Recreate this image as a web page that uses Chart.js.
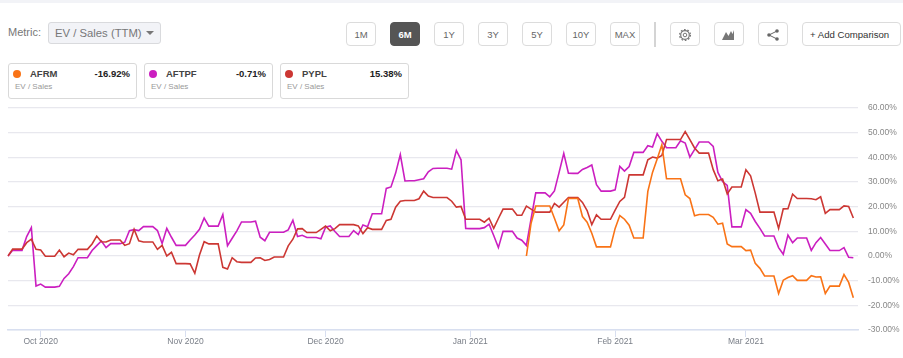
<!DOCTYPE html>
<html>
<head>
<meta charset="utf-8">
<title>EV / Sales (TTM)</title>
<script src="https://cdn.jsdelivr.net/npm/chart.js@4"></script>
<style>
  html, body { margin: 0; padding: 0; background: #fff; overflow: hidden; }
  body { width: 903px; height: 358px; position: relative; font-family: "Liberation Sans", Arial, sans-serif; }
  .topband { position: absolute; left: 0; top: 0; width: 903px; height: 3px; background: #f2f3f7; }
  .abs { position: absolute; box-sizing: border-box; }
  .metric { left: 8px; top: 26px; font-size: 11px; color: #777; }
  .select { left: 48px; top: 22px; width: 113px; height: 22px; background: #f2f3f7; border: 1px solid #d9dadd; border-radius: 3px;
    font-size: 11.3px; line-height: 20px; color: #777; padding-left: 6px; }
  .caret { left: 146px; top: 31px; width: 0; height: 0; border-left: 4px solid transparent; border-right: 4px solid transparent; border-top: 4px solid #777; }
  .btn { top: 22px; height: 24px; width: 30px; border: 1px solid #dcdcdc; border-radius: 4px; background: #fff;
    font-size: 9.5px; line-height: 24px; text-align: center; color: #666; }
  .btn.on { background: #555; border-color: #555; color: #fff; font-weight: bold; }
  .btn svg { display: block; margin: 5px auto 0; }
  .sep { left: 654px; top: 22px; width: 2px; height: 25px; background: #d4d4d4; }
  .card { top: 63px; width: 129px; height: 36px; border: 1px solid #d9d9d9; border-radius: 3px; background: #fff; }
  .dot { left: 4px; top: 6px; width: 8px; height: 8px; border-radius: 50%; }
  .name { left: 21px; top: 4px; font-size: 9.5px; font-weight: bold; color: #444; }
  .val { right: 6px; top: 4px; font-size: 9.5px; font-weight: bold; color: #222; }
  .sub { left: 6px; top: 18px; font-size: 8px; color: #999; }
  #chart { position: absolute; left: 0; top: 0; }
</style>
</head>
<body>
<div class="topband"></div>
<div class="abs metric">Metric:</div>
<div class="abs select">EV / Sales (TTM)</div>
<div class="abs caret"></div>
<div id="ranges"></div>
<div class="abs sep"></div>
<div class="abs btn" style="left:670px"><svg width="14" height="14" viewBox="0 0 14 14"><circle cx="7" cy="7" r="4.3" fill="none" stroke="#777" stroke-width="1.2"/><circle cx="7" cy="7" r="5.4" fill="none" stroke="#777" stroke-width="1.3" stroke-dasharray="1.7 1.7"/><circle cx="7" cy="7" r="1.8" fill="none" stroke="#777"/></svg></div>
<div class="abs btn" style="left:714px"><svg width="14" height="14" viewBox="0 0 14 14"><path d="M0 12 L4 4 L6.5 8 L9 3 L10.5 6 L12 2 L12 12 Z" fill="#777"/></svg></div>
<div class="abs btn" style="left:758px"><svg width="14" height="14" viewBox="0 0 14 14"><path d="M3 7 L11 3 M3 7 L11 11" stroke="#666" fill="none"/><circle cx="3" cy="7" r="1.8" fill="#666"/><circle cx="11" cy="3" r="1.8" fill="#666"/><circle cx="11" cy="11" r="1.8" fill="#666"/></svg></div>
<div class="abs btn" style="left:802px;width:99px;font-size:9.6px;color:#333;text-align:left;padding-left:7px">+ Add Comparison</div>
<div id="cards"></div>
<canvas id="chart" width="903" height="358"></canvas>

<script>
// 期間ボタンと凡例カード
const RANGE_LABELS = ["1M", "6M", "1Y", "3Y", "5Y", "10Y", "MAX"];
const TICKERS = ["AFRM", "AFTPF", "PYPL"];
const CHANGES = ["-16.92%", "-0.71%", "15.38%"];
const COLORS = ["#f97316", "#cb1fc0", "#cc3733"];

// tick labels
const MONTH_DAYS = ["2020-10-01", "2020-11-01", "2020-12-01", "2021-01-01", "2021-02-01", "2021-03-01"];
const MONTH_LABELS = ["Oct 2020", "Nov 2020", "Dec 2020", "Jan 2021", "Feb 2021", "Mar 2021"];
const Y_TICKS = [60, 50, 40, 30, 20, 10, 0, -10, -20, -30];

// 日次（2020-09-24 から、週末は金曜の値のまま）
const PYPL = [
  0, 2.8, 2.8, 2.8, 5.4, 6.8, 2.7,
  2.4, -0.1, -0.1, -0.1, 2.4, -0.3, 1.2,
  0.5, 2.7, 2.7, 2.7, 4.9, 8.1, 5.8,
  5.7, 6.5, 6.5, 6.5, 4.3, 5.0, 10.8,
  6.2, 5.7, 5.7, 5.7, 2.7, 4.3, 0,
  1.5, -3.1, -3.1, -3.1, -3.2, -7.0, 0.4,
  5.8, 4.9, 4.9, 4.9, -4.6, -5.3, -0.7,
  -2.3, -2.6, -2.6, -2.6, -0.8, -0.7, -1.8,
  -1.4, -0.4, -0.4, -0.4, 4.1, 6.8, 11,
  11.1, 9.5, 9.5, 9.5, 10.8, 12.1, 10.2,
  11.1, 12.7, 12.7, 12.7, 12.7, 12.2, 9.1,
  11.5, 10.8, 10.8, 10.8, 14.4, 14.9, 19.8,
  22.2, 22.5, 22.5, 22.5, 23.2, 26.3, 24.3,
  23.7, 23.7, 23.7, 23.7, 22.2, 19.8, 20.1,
  14.9, 14.9, 14.9, 14.9, 13.7, 15.3, 11.2,
  15.2, 19, 19, 19, 16.5, 16.5, 20.2,
  19, 17.8, 17.8, 17.8, 17.8, 21.3, 19.8,
  21.8, 23.7, 23.7, 23.7, 21.7, 18.4, 12.7,
  16.7, 14.9, 14.9, 14.9, 18.6, 22.1, 23.8,
  32.9, 32.9, 32.9, 32.9, 39, 40.1, 39.7,
  40.8, 47.2, 47.2, 47.2, 47.2, 50.4, 47.2,
  43.8, 41.7, 41.7, 41.7, 35, 30.5, 31.2,
  25.2, 28, 28, 28, 35, 32.5, 25.5,
  17.8, 17.8, 17.8, 17.8, 11.2, 19.1, 19.2,
  25.1, 23.3, 23.3, 23.3, 23.2, 22.8, 24,
  17.3, 18.8, 18.8, 18.8, 20.3, 20.1, 15.38,
];
const AFTPF = [
  0, 2.3, 2.3, 2.3, 7.9, 11.5, -12.2,
  -11.4, -12.6, -12.6, -12.6, -12.3, -9.1, -7.2,
  -4.3, -0.7, -0.7, -0.7, 2.2, 4.2, 6.1,
  3.4, 5.0, 5.0, 5.0, 5.6, 10.3, 10.7,
  10.3, 11.9, 11.9, 11.9, 10.3, 5.1, 11.2,
  7.6, 4.3, 4.3, 4.3, 6.5, 8.5, 10.8,
  15.4, 12.1, 12.1, 12.1, 16.8, 4.2, 7.2,
  10.2, 13.8, 13.8, 13.8, 14.1, 7.6, 6.2,
  9.6, 9.6, 9.6, 9.6, 10.6, 14.5, 7.9,
  8.4, 7.5, 7.5, 7.5, 7.0, 11.7, 12.2,
  9.9, 7.9, 7.9, 7.9, 10.3, 8.7, 12.6,
  11.9, 17.1, 17.1, 17.1, 27.4, 28, 33.6,
  41.1, 30.4, 30.5, 30.5, 30.9, 31.3, 34.1,
  35.5, 35.6, 35.6, 35.6, 35.2, 42.8, 39,
  11.2, 11.1, 11.1, 11.1, 11.5, 12.9, 8.3,
  3.4, 10, 10, 10, 7.3, 6.4, 4.3,
  15.0, 25.6, 25.6, 25.6, 24, 26.4, 33.9,
  41.6, 33.6, 33.5, 33.5, 35.1, 35.9, 36.9,
  28.9, 26.3, 26.3, 26.3, 26.8, 36.3, 34.4,
  36.3, 42, 42, 42, 44.7, 44.2, 49.6,
  46.5, 43.9, 43.9, 43.9, 46.7, 45.8, 40.1,
  43.1, 46.2, 46.2, 46.2, 44.4, 33.9, 30.2,
  28.6, 11.8, 11.8, 11.8, 18.8, 17.3, 14,
  11.2, 8.1, 8.1, 8.1, 3.4, 0.7, 8.5,
  5.4, 7.3, 7.3, 7.3, 2.3, 5.4, 7.5,
  4.9, 2.2, 2.2, 2.2, 3.4, -0.5, -0.71,
];
// AFRM は上場後（2021-01-13）から
const AFRM_FIRST_DAY = "2021-01-13";
const AFRM = [
  0, 13.3, 20.3, 20.3, 20.3, 20.3, 15.3, 10.2, 12.6,
  23.3, 23.3, 23.3, 16, 13.7, 9.2, 3.7,
  3.7, 3.7, 3.7, 11.2, 16.4, 14.9, 12.5,
  7.3, 7.3, 7.3, 26.2, 33.9, 39.3, 45.1,
  31.3, 31.3, 31.3, 31.3, 24.8, 23.3, 16.3,
  16.8, 16.8, 16.8, 15.7, 12.9, 13.3, 4.9,
  3.8, 3.8, 3.8, 2.2, 2.4, -3, -5,
  -8.1, -8.1, -8.1, -15.2, -9.8, -8.7, -8,
  -9.9, -9.9, -9.9, -8, -8.5, -8.4, -15.2,
  -12.2, -12.2, -12.2, -7.5, -10.7, -16.92,
];

function buildDayLabels(first, count) {
  const out = [];
  const d = new Date(first + "T00:00:00Z");
  for (let i = 0; i < count; i++) {
    out.push(d.toISOString().slice(0, 10));
    d.setUTCDate(d.getUTCDate() + 1);
  }
  return out;
}

// 最後の1日は右端の余白（値なし）
const dayLabels = buildDayLabels("2020-09-24", PYPL.length + 1);
const afrmGap = Array(dayLabels.indexOf(AFRM_FIRST_DAY)).fill(null);

function renderControls() {
  const ranges = document.getElementById("ranges");
  RANGE_LABELS.forEach((t, i) => {
    const b = document.createElement("div");
    b.className = "abs btn" + (t === "6M" ? " on" : "");
    b.style.left = 346 + i * 44 + "px";
    b.textContent = t;
    ranges.appendChild(b);
  });
  const cards = document.getElementById("cards");
  TICKERS.forEach((t, i) => {
    const c = document.createElement("div");
    c.className = "abs card";
    c.style.left = 8 + i * 136 + "px";
    c.innerHTML =
      `<div class="abs dot" style="background:${COLORS[i]}"></div>` +
      `<div class="abs name">${t}</div><div class="abs val">${CHANGES[i]}</div>` +
      `<div class="abs sub">EV / Sales</div>`;
    cards.appendChild(c);
  });
}

function renderChart() {
  const ctx = document.getElementById("chart").getContext("2d");
  const line = (label, data, color) => ({
    label, data, borderColor: color, backgroundColor: color,
    borderWidth: 1.6, pointRadius: 0, tension: 0, spanGaps: false,
  });
  new Chart(ctx, {
    type: "line",
    data: {
      labels: dayLabels,
      datasets: [
        line(TICKERS[0], afrmGap.concat(AFRM), COLORS[0]),
        line(TICKERS[2], PYPL, COLORS[2]),
        line(TICKERS[1], AFTPF, COLORS[1]),
      ],
    },
    options: {
      responsive: false,
      animation: false,
      layout: { padding: { left: 8, top: 108, right: 0, bottom: 0 } },
      plugins: { legend: { display: false }, tooltip: { enabled: false } },
      scales: {
        x: {
          type: "category",
          offset: false,
          afterBuildTicks(scale) {
            scale.ticks = MONTH_DAYS.map((d) => ({ value: dayLabels.indexOf(d) }));
          },
          afterFit(scale) { scale.height = 28; },
          border: { color: "#d8dff0", width: 1.5 },
          grid: { drawOnChartArea: false, tickColor: "#d8dff0", tickLength: 7 },
          ticks: {
            autoSkip: false, maxRotation: 0, padding: 0,
            color: "#7a7f88",
            font: { family: "Liberation Sans", size: 8.5 },
            callback(v) { return MONTH_LABELS[MONTH_DAYS.indexOf(this.getLabelForValue(v))]; },
          },
        },
        y: {
          position: "right",
          min: Y_TICKS[Y_TICKS.length - 1],
          max: Y_TICKS[0],
          afterBuildTicks(scale) { scale.ticks = Y_TICKS.map((v) => ({ value: v })); },
          afterFit(scale) { scale.width = 45; },
          border: { display: false },
          grid: { color: "#e8e8ee", lineWidth: 1.3, drawTicks: false },
          ticks: {
            padding: 10,
            color: "#888",
            font: { family: "Liberation Sans", size: 8.5 },
            callback: (v) => `${v.toFixed(2)}%`,
          },
        },
      },
    },
  });
}

renderControls();
renderChart();
</script>
</body>
</html>
